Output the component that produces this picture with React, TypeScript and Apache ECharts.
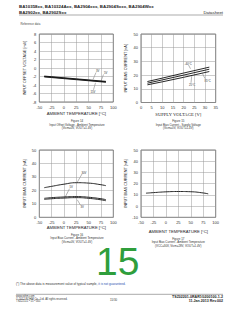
import React, { useEffect, useRef } from "react";
import * as echarts from "echarts";

// Figure 14: Input offset voltage vs ambient temperature
const fig14Temps = [-40, -25, 0, 25, 50, 75, 85];
const fig14Vcc3 = [-1.9, -2.05, -2.3, -2.55, -2.8, -3.05, -3.15];
const fig14Vcc5 = [-2.0, -2.15, -2.4, -2.65, -2.9, -3.15, -3.25];
const fig14Vcc15 = [-2.1, -2.25, -2.5, -2.75, -3.0, -3.25, -3.35];

// Figure 15: Input bias current vs supply voltage
const fig15Supply = [3, 10, 20, 32];
const fig15Cold = [15.3, 17.8, 21.5, 25.8];
const fig15Room = [14.1, 16.5, 20.0, 24.3];
const fig15Hot = [12.9, 15.1, 18.4, 22.6];

// Figure 16: Input bias current vs ambient temperature
const fig16Temps = [-40, -25, 0, 25, 50, 75, 85];
const fig16Vcc30 = [22.0, 23.0, 24.6, 25.7, 25.4, 24.2, 23.5];
const fig16Vcc5 = [14.1, 14.6, 15.1, 15.4, 14.9, 13.8, 13.1];
const fig16Vcc3 = [13.3, 13.8, 14.3, 14.6, 14.1, 13.0, 12.3];

// Figure 17: Input bias current vs ambient temperature (Vcc=30V, Vicm=28V)
const fig17Temps = [-40, -25, 0, 25, 50, 75, 85];
const fig17Bias = [11.5, 12.0, 12.7, 13.0, 12.8, 11.7, 10.9];

const zip = (xs: number[], ys: number[]) => xs.map((x, i) => [x, ys[i]]);

const SANS = "Liberation Sans, Arial, sans-serif";
const SERIF = "Liberation Serif, Times New Roman, serif";

function txt(x: number, y: number, text: string, o: any = {}) {
  return {
    type: "text",
    x,
    y,
    rotation: o.rotation || 0,
    silent: true,
    style: {
      text,
      fontSize: o.size || 3,
      fontFamily: o.family || SANS,
      fontWeight: o.bold ? "bold" : "normal",
      fill: o.color || "#333",
      align: o.align || "left",
      verticalAlign: o.valign || "middle",
      rich: o.rich,
    },
  };
}
function ln(x1: number, y1: number, x2: number, y2: number, o: any = {}) {
  return {
    type: "line",
    silent: true,
    shape: { x1, y1, x2, y2 },
    style: { stroke: o.color || "#444", lineWidth: o.width || 0.4 },
  };
}

export default function App() {
  const ref = useRef<HTMLDivElement>(null);
  useEffect(() => {
    if (!ref.current) return;
    const chart = echarts.init(ref.current, null, { renderer: "svg" });

    const grids = [
      { left: 39.3, top: 34, width: 74, height: 68 },
      { left: 141, top: 34, width: 74.7, height: 68.5 },
      { left: 39.3, top: 150, width: 74, height: 67.3 },
      { left: 141, top: 150, width: 74.7, height: 67.3 },
    ].map((g) => ({ ...g, show: true, borderColor: "#222", borderWidth: 0.6, containLabel: false }));

    const axisLabel = { fontSize: 4, color: "#333", margin: 3, fontFamily: SANS };
    const split = { show: true, lineStyle: { color: "#999", width: 0.5 } };
    const baseAxis = {
      type: "value",
      axisLine: { show: false },
      axisTick: { show: false },
      splitLine: split,
      axisLabel,
      nameLocation: "middle",
    };

    const xAxes = [
      { ...baseAxis, gridIndex: 0, min: -50, max: 100, interval: 25, name: "AMBIENT TEMPERATURE [°C]", nameGap: 9.5, nameTextStyle: { fontSize: 4.2, color: "#222", fontFamily: SANS } },
      { ...baseAxis, gridIndex: 1, min: 0, max: 35, interval: 5, name: "SUPPLY VOLTAGE [V]", nameGap: 9.5, nameTextStyle: { fontSize: 4.6, color: "#222", fontFamily: SERIF } },
      { ...baseAxis, gridIndex: 2, min: -50, max: 100, interval: 25, name: "AMBIENT TEMPERATURE [°C]", nameGap: 8.5, nameTextStyle: { fontSize: 4.2, color: "#222", fontFamily: SANS } },
      { ...baseAxis, gridIndex: 3, min: -50, max: 100, interval: 25, name: "AMBIENT TEMPERATURE [°C]", nameGap: 12, nameTextStyle: { fontSize: 4.2, color: "#222", fontFamily: SANS } },
    ];
    const yName = { fontSize: 3.8, color: "#222", fontFamily: SANS };
    const yAxes = [
      { ...baseAxis, gridIndex: 0, min: -8, max: 8, interval: 2, name: "INPUT OFFSET VOLTAGE [mV]", nameGap: 12.5, nameRotate: 90, nameTextStyle: yName },
      { ...baseAxis, gridIndex: 1, min: 0, max: 50, interval: 10, name: "INPUT BIAS CURRENT [nA]", nameGap: 13.5, nameRotate: 90, nameTextStyle: yName },
      { ...baseAxis, gridIndex: 2, min: 0, max: 50, interval: 10, name: "INPUT BIAS CURRENT [nA]", nameGap: 12.5, nameRotate: 90, nameTextStyle: yName },
      { ...baseAxis, gridIndex: 3, min: -10, max: 50, interval: 10, name: "INPUT BIAS CURRENT [nA]", nameGap: 13.5, nameRotate: 90, nameTextStyle: yName },
    ];

    const line = (idx: number, data: number[][], width: number, smooth = false) => ({
      type: "line",
      xAxisIndex: idx,
      yAxisIndex: idx,
      data,
      symbol: "none",
      smooth,
      silent: true,
      lineStyle: { color: "#111", width },
    });

    const series = [
      line(0, zip(fig14Temps, fig14Vcc3), 0.9),
      line(0, zip(fig14Temps, fig14Vcc5), 0.9),
      line(0, zip(fig14Temps, fig14Vcc15), 0.9),
      line(1, zip(fig15Supply, fig15Cold), 0.9),
      line(1, zip(fig15Supply, fig15Room), 0.9),
      line(1, zip(fig15Supply, fig15Hot), 0.9),
      line(2, zip(fig16Temps, fig16Vcc30), 0.9, true),
      line(2, zip(fig16Temps, fig16Vcc5), 0.9, true),
      line(2, zip(fig16Temps, fig16Vcc3), 0.9, true),
      line(3, zip(fig17Temps, fig17Bias), 0.9, true),
    ];

    const cap = 2.9;
    const graphic: any[] = [
      // header
      txt(19, 6.7, "BA10358xx, BA10324Axx, BA2904xxx, BA2904Sxxx, BA2904Wxx", { size: 4.4, bold: true, color: "#222" }),
      txt(19, 12, "BA2902xx, BA2902Sxx", { size: 4.4, bold: true, color: "#222" }),
      txt(223, 12, "Datasheet", { size: 4.3, align: "right", color: "#222" }),
      ln(19, 15, 223, 15, { color: "#555", width: 0.5 }),
      txt(20.5, 23.3, "Reference data", { size: 2.9, color: "#444" }),

      // fig 14 captions and annotations
      txt(77, 120.7, "Figure 14", { size: cap, align: "center" }),
      txt(77, 124.3, "Input Offset Voltage - Ambient Temperature", { size: cap, align: "center" }),
      txt(77, 128, "(Vicm=0V, VOUT=1.4V)", { size: cap, align: "center" }),
      txt(96, 71, "3V", { size: 2.8 }),
      ln(96, 72.5, 93, 79.5),
      txt(104, 73, "5V", { size: 2.8 }),
      ln(103.5, 74.5, 101, 81),
      txt(90.5, 91.5, "15V", { size: 2.8 }),
      ln(93.5, 89.8, 95.5, 82.8),

      // fig 15
      txt(178.3, 120.7, "Figure 15", { size: cap, align: "center" }),
      txt(178.3, 124.3, "Input Bias Current - Supply Voltage", { size: cap, align: "center" }),
      txt(178.3, 128, "(Vicm=0V, VOUT=1.4V)", { size: cap, align: "center" }),
      txt(184.5, 63.3, "-40°C", { size: 2.8 }),
      ln(188.5, 65, 190.5, 68.8),
      txt(189, 84.5, "25°C", { size: 2.8 }),
      ln(191, 82.8, 191.7, 76.2),
      txt(204.5, 80.5, "85°C", { size: 2.8 }),
      ln(205, 78.6, 202.5, 73.6),

      // fig 16
      txt(77, 234.3, "Figure 16", { size: cap, align: "center" }),
      txt(77, 238, "Input Bias Current - Ambient Temperature", { size: cap, align: "center" }),
      txt(77, 241.7, "(Vicm=0V, VOUT=1.4V)", { size: cap, align: "center" }),
      txt(81.5, 172.3, "30V", { size: 2.8 }),
      ln(82, 174, 77.3, 182.2),
      txt(69.5, 187, "5V", { size: 2.8 }),
      ln(69.5, 188.7, 65.3, 196.8),
      txt(80.5, 206.7, "3V", { size: 2.8 }),
      ln(80.5, 205.2, 77.3, 199.8),

      // fig 17
      txt(178.3, 238.3, "Figure 17", { size: cap, align: "center" }),
      txt(178.3, 242, "Input Bias Current - Ambient Temperature", { size: cap, align: "center" }),
      txt(178.3, 245.7, "(VCC=30V, Vicm=28V, VOUT=1.4V)", { size: cap, align: "center" }),

      // page number
      txt(96, 261.5, "15", { size: 39, color: "#2f9e3c", family: SANS }),

      // footnote
      {
        type: "text",
        x: 16,
        y: 283.7,
        silent: true,
        style: {
          text: "{a|(*) The above data is measurement value of typical sample, }{b|it is not guaranteed.}",
          fontFamily: SANS,
          verticalAlign: "middle",
          rich: {
            a: { fontSize: 3.1, fill: "#333", fontFamily: SANS },
            b: { fontSize: 3.1, fill: "#2a4fb0", fontFamily: SANS },
          },
        },
      },
      ln(16, 294.3, 223, 294.3, { color: "#555", width: 0.5 }),
      txt(16, 296.8, "www.rohm.com", { size: 2.7, color: "#333" }),
      txt(16, 299.3, "© 2012 ROHM Co., Ltd. All rights reserved.", { size: 2.7, color: "#333" }),
      txt(16, 301.8, "TSZ22111 • 15 • 001", { size: 2.7, color: "#333" }),
      txt(113.5, 299.3, "15/30", { size: 2.8, align: "center", color: "#333" }),
      txt(223, 297.2, "TSZ02201-0RAR1G200100-1-2", { size: 3.6, bold: true, align: "right", color: "#222" }),
      txt(223, 300.6, "11.Jan.2013 Rev.002", { size: 3.6, bold: true, align: "right", color: "#222" }),
    ];

    chart.setOption({
      animation: false,
      backgroundColor: "#ffffff",
      grid: grids,
      xAxis: xAxes,
      yAxis: yAxes,
      series,
      graphic,
    });
    return () => chart.dispose();
  }, []);

  return (
    <div
      ref={ref}
      style={{ position: "absolute", left: 0, top: 0, width: 240, height: 310, background: "#fff" }}
    />
  );
}
